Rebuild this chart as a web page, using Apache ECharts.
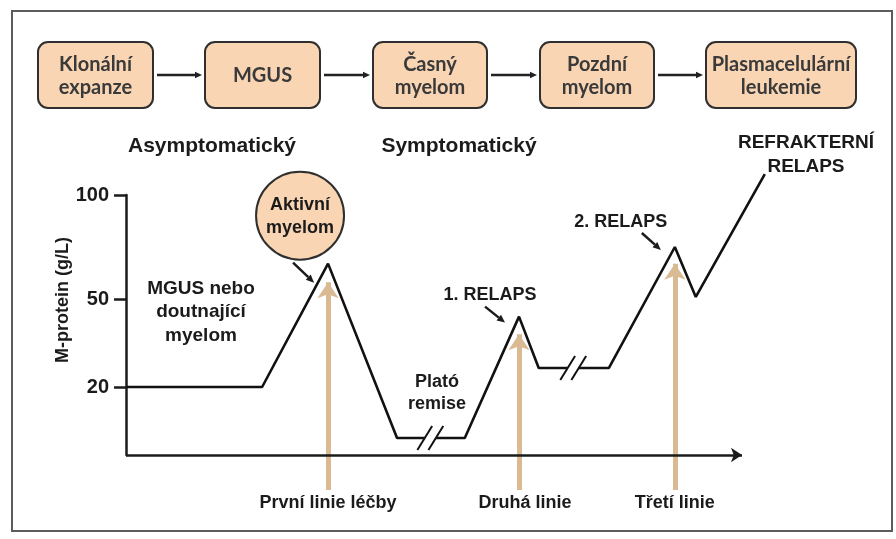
<!DOCTYPE html>
<html>
<head>
<meta charset="utf-8">
<title>M-protein</title>
<script src="https://cdn.jsdelivr.net/npm/echarts@6.0.0/dist/echarts.min.js"></script>
<style>
  html, body { margin: 0; padding: 0; background: #fff; }
  #main { width: 896px; height: 539px; }
</style>
</head>
<body>
<div id="main"></div>
<script type="text/javascript">
    // průběh M-proteinu: čas (schematické jednotky, 100 = konec osy) a hladina v g/L
    // '-' = přerušení čáry (značka //)
    var curveTime  = [0, 22.1, 32.8, 44.0, 48.5, 49.4, 50.3, 55.0, 63.8, 67.0, 71.7, 72.6, 73.5, 78.4, 89.1, 92.5, 103.7];
    var curveLevel = [20, 20, 67, 5, 5, '-', 5, 5, 44, 26.5, 26.5, '-', 26.5, 26.5, 75, 51, 110];

    var yTickLabels = [20, 50, 100];

    var treatmentNames = ['První linie léčby', 'Druhá linie', 'Třetí linie'];
    var treatmentTime = [32.8, 63.8, 89.1];
    var treatmentTip = [58, 38, 67];

    var breakTime = [49.4, 72.6];
    var breakLevel = [5, 26.5];

    var stages = ['Klonální\nexpanze', 'MGUS', 'Časný\nmyelom', 'Pozdní\nmyelom', 'Plasmacelulární\nleukemie'];

    // osa y v obrázku není lineární: 20, 50 a 100 g/L leží v těchto podílech výšky osy
    var yKnots = [[0, 0], [20, 26.15], [50, 60], [100, 100]];
    function toAxis(g) {
        var i = 1;
        while (i < yKnots.length - 1 && g > yKnots[i][0]) i++;
        var a = yKnots[i - 1], b = yKnots[i];
        return a[1] + (g - a[0]) * (b[1] - a[1]) / (b[0] - a[0]);
    }

    var FONT = '"Liberation Sans", Arial, sans-serif';
    var INK = '#1b1b1b';
    var TIME_END = 100;   // kde končí šipka časové osy
    var TIME_MAX = 104;   // křivka pokračuje kousek za šipku

    var myChart = echarts.init(document.getElementById('main'));

    var lineData = curveTime.map(function (t, i) {
        var v = curveLevel[i];
        return [t, v === '-' ? '-' : toAxis(v)];
    });

    var arrowTail = -13.5; // pod časovou osou
    var treatmentData = treatmentTime.map(function (t, i) {
        return { coords: [[t, arrowTail], [t, toAxis(treatmentTip[i])]] };
    });

    var slashData = [];
    breakTime.forEach(function (t, i) {
        var y = toAxis(breakLevel[i]);
        [-0.9, 0.9].forEach(function (d) {
            slashData.push({ coords: [[t + d - 1.2, y - 4.6], [t + d + 1.2, y + 4.6]] });
        });
    });

    var tickPos = yTickLabels.map(toAxis);

    var option = {
        animation: false,
        backgroundColor: '#fff',
        grid: { left: 126, right: 896 - 126 - 616 * TIME_MAX / TIME_END, top: 195, bottom: 84 },
        xAxis: {
            type: 'value', min: 0, max: TIME_MAX,
            axisLine: { show: false },
            axisTick: { show: false },
            axisLabel: { show: false },
            splitLine: { show: false }
        },
        yAxis: {
            type: 'value', min: 0, max: 100,
            axisLine: { show: true, lineStyle: { color: INK, width: 2.5 } },
            axisTick: { show: true, customValues: tickPos, length: 12, lineStyle: { color: INK, width: 2.5 } },
            axisLabel: {
                show: true, customValues: tickPos, margin: 17,
                color: INK, fontFamily: FONT, fontWeight: 'bold', fontSize: 20,
                formatter: function (v) {
                    for (var i = 0; i < tickPos.length; i++) {
                        if (Math.abs(tickPos[i] - v) < 0.01) return String(yTickLabels[i]);
                    }
                    return '';
                }
            },
            splitLine: { show: false }
        },
        series: [
            {
                type: 'lines', coordinateSystem: 'cartesian2d', clip: false, z: 1,
                symbol: ['none', 'arrow'], symbolSize: [11, 16],
                lineStyle: { color: '#DABA93', width: 5, opacity: 1 },
                data: treatmentData
            },
            {
                // časová osa se šipkou
                type: 'lines', coordinateSystem: 'cartesian2d', clip: false, z: 2,
                symbol: ['none', 'arrow'], symbolSize: [8, 11],
                lineStyle: { color: INK, width: 2.5, opacity: 1 },
                data: [{ coords: [[0, 0], [TIME_END, 0]] }]
            },
            {
                type: 'line', data: lineData, symbol: 'none', clip: false, connectNulls: false, z: 3,
                lineStyle: { color: '#111', width: 2.6 }
            },
            {
                type: 'lines', coordinateSystem: 'cartesian2d', clip: false, z: 4,
                lineStyle: { color: '#111', width: 2, opacity: 1 },
                data: slashData
            }
        ]
    };
    myChart.setOption(option);

    function txt(x, y, text, size, extra) {
        var el = {
            type: 'text', x: x, y: y, z: 10,
            style: {
                text: text, fill: INK, align: 'center', verticalAlign: 'middle',
                font: 'bold ' + size + 'px ' + FONT, lineHeight: Math.round(size * 1.2)
            }
        };
        if (extra) Object.keys(extra).forEach(function (k) { el.style[k] = extra[k]; });
        return el;
    }

    function arrow(x1, y1, x2, y2, w, head, color) {
        var ang = Math.atan2(y2 - y1, x2 - x1);
        var hx = x2 - head * Math.cos(ang), hy = y2 - head * Math.sin(ang);
        var px = Math.sin(ang) * head * 0.45, py = -Math.cos(ang) * head * 0.45;
        return [
            { type: 'line', z: 10, shape: { x1: x1, y1: y1, x2: hx, y2: hy }, style: { stroke: color, lineWidth: w } },
            { type: 'polygon', z: 10, shape: { points: [[x2, y2], [hx + px, hy + py], [hx - px, hy - py]] }, style: { fill: color } }
        ];
    }

    var g = [];
    // rámeček
    g.push({ type: 'rect', z: 0, shape: { x: 12, y: 11, width: 880, height: 520 }, style: { fill: 'none', stroke: '#5c5c5c', lineWidth: 2 } });

    // stadia nahoře
    var boxLeft = [38, 205, 373, 540, 706];
    var boxWidth = [115, 115, 114, 114, 150];
    stages.forEach(function (s, i) {
        g.push({ type: 'rect', z: 5, shape: { x: boxLeft[i], y: 42, width: boxWidth[i], height: 66, r: 10 },
            style: { fill: '#F9D5B4', stroke: '#2f2f2f', lineWidth: 2 } });
        g.push(txt(boxLeft[i] + boxWidth[i] / 2, 76, s, 20, { font: 'bold 20px Lato, sans-serif', fill: '#3a3a3a', lineHeight: 23 }));
        if (i < stages.length - 1) {
            var ax1 = boxLeft[i] + boxWidth[i] + 4, ax2 = boxLeft[i + 1] - 3;
            g = g.concat(arrow(ax1, 75, ax2, 75, 2.5, 7, '#222'));
        }
    });

    g.push(txt(212, 146, 'Asymptomatický', 21));
    g.push(txt(459, 146, 'Symptomatický', 21));
    g.push(txt(806, 155, 'REFRAKTERNÍ\nRELAPS', 19, { lineHeight: 24 }));

    // název osy y
    g.push({ type: 'text', x: 63, y: 300, rotation: Math.PI / 2, z: 10,
        style: { text: 'M-protein (g/L)', fill: INK, align: 'center', verticalAlign: 'middle', font: 'bold 18px ' + FONT } });

    g.push(txt(201, 312, 'MGUS nebo\ndoutnající\nmyelom', 19, { lineHeight: 23.5 }));
    g.push(txt(437, 393, 'Plató\nremise', 18, { lineHeight: 22 }));

    // popisky navázané na vrcholy křivky
    var peaks = treatmentTime.map(function (t) {
        var i = curveTime.indexOf(t);
        return myChart.convertToPixel({ gridIndex: 0 }, [t, toAxis(curveLevel[i])]);
    });

    var p0 = peaks[0];
    g.push({ type: 'circle', z: 8, shape: { cx: p0[0] - 28, cy: p0[1] - 48, r: 44 },
        style: { fill: '#F9D5B4', stroke: '#2f2f2f', lineWidth: 2 } });
    g.push(txt(p0[0] - 28, p0[1] - 47, 'Aktivní\nmyelom', 18, { lineHeight: 23 }));
    g = g.concat(arrow(p0[0] - 35, p0[1] - 1, p0[0] - 14, p0[1] + 19, 2.5, 8, INK));

    var p1 = peaks[1];
    g.push(txt(p1[0] - 29, p1[1] - 22, '1. RELAPS', 18));
    g = g.concat(arrow(p1[0] - 34, p1[1] - 10, p1[0] - 14, p1[1] + 6, 2.5, 8, INK));

    var p2 = peaks[2];
    g.push(txt(p2[0] - 54, p2[1] - 25, '2. RELAPS', 18));
    g = g.concat(arrow(p2[0] - 33, p2[1] - 14, p2[0] - 14, p2[1] + 3, 2.5, 8, INK));

    // popisky linií léčby pod šipkami
    treatmentTime.forEach(function (t, i) {
        var p = myChart.convertToPixel({ gridIndex: 0 }, [t, arrowTail]);
        g.push(txt(p[0] + (i === 1 ? 6 : 0), p[1] + 13, treatmentNames[i], 18));
    });

    myChart.setOption({ graphic: g });
</script>
</body>
</html>
